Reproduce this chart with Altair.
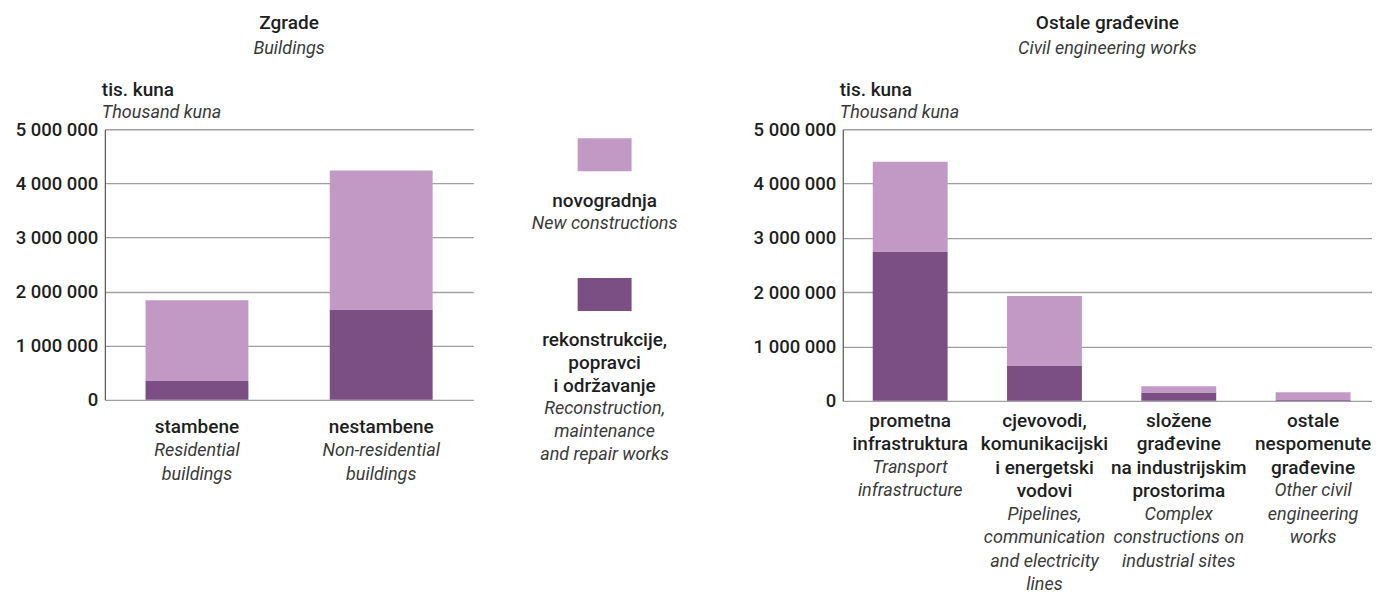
import altair as alt
import pandas as pd

FONT = "Roboto"
TXT = "#1e1e1e"
ITX = "#3a3a3a"
WT = 500

# ---- data ----
series = ["novogradnja", "rekonstrukcije, popravci i održavanje"]
series_hr = [["novogradnja"], ["rekonstrukcije,", "popravci", "i održavanje"]]
series_en = [["New constructions"], ["Reconstruction,", "maintenance", "and repair works"]]
colors = ["#C199C4", "#7B4F84"]

bld_cats = ["stambene", "nestambene"]
bld_new = [1490000, 2570000]
bld_rec = [350000, 1670000]
bld_hr = [["stambene"], ["nestambene"]]
bld_en = [["Residential", "buildings"], ["Non-residential", "buildings"]]

civ_cats = ["prometna infrastruktura", "cjevovodi, komunikacijski i energetski vodovi",
            "složene građevine na industrijskim prostorima", "ostale nespomenute građevine"]
civ_new = [1650000, 1290000, 115000, 145000]
civ_rec = [2750000, 640000, 155000, 15000]
civ_hr = [["prometna", "infrastruktura"],
          ["cjevovodi,", "komunikacijski", "i energetski", "vodovi"],
          ["složene", "građevine", "na industrijskim", "prostorima"],
          ["ostale", "nespomenute", "građevine"]]
civ_en = [["Transport", "infrastructure"],
          ["Pipelines,", "communication", "and electricity", "lines"],
          ["Complex", "constructions on", "industrial sites"],
          ["Other civil", "engineering", "works"]]

y_ticks = [0, 1000000, 2000000, 3000000, 4000000, 5000000]
unit_hr = "tis. kuna"
unit_en = "Thousand kuna"

color_enc = alt.Color("series:N", scale=alt.Scale(domain=series, range=colors), legend=None)


def panel(cats, new, rec, hr, en, title, subtitle, width, height, p_in, p_out, align,
          label_top, line_h):
    rows = []
    for i, c in enumerate(cats):
        rows.append({"cat": c, "series": series[1], "value": rec[i], "rank": 0})
        rows.append({"cat": c, "series": series[0], "value": new[i], "rank": 1})
    df = pd.DataFrame(rows)
    xs = alt.Scale(domain=cats, paddingInner=p_in, paddingOuter=p_out, align=align)
    bars = alt.Chart(df).mark_bar().encode(
        x=alt.X("cat:N", scale=xs, axis=alt.Axis(labels=False, ticks=False, title=None,
                                                  domainColor="#222", domainWidth=1.5)),
        y=alt.Y("value:Q", stack="zero",
                scale=alt.Scale(domain=[0, 5000000], nice=False),
                axis=alt.Axis(values=y_ticks, title=None, ticks=False,
                              labelExpr="replace(format(datum.value, ','), regexp(',', 'g'), ' ')",
                              labelFont=FONT, labelFontSize=18.5, labelColor=TXT,
                              labelFontWeight=WT,
                              labelPadding=7, grid=True, gridColor="#a0a0a0", gridWidth=1.3,
                              domainColor="#555", domainWidth=1.2)),
        color=color_enc,
        order=alt.Order("rank:Q"),
    )
    lab = pd.DataFrame({"cat": cats, "hr": hr, "en": en})
    base = alt.Chart(lab).encode(x=alt.X("cat:N", scale=xs, axis=None), y=alt.value(height + label_top))
    layers = [bars,
              base.mark_text(font=FONT, fontSize=19, fontWeight=WT, color=TXT, align="center",
                             baseline="top", lineHeight=line_h).encode(text="hr:N")]
    for c, h in zip(cats, hr):
        layers.append(
            base.transform_filter(alt.datum.cat == c).mark_text(
                font=FONT, fontSize=18, fontStyle="italic", color=ITX, align="center",
                baseline="top", lineHeight=line_h, dy=line_h * len(h)).encode(text="en:N"))
    u = alt.Chart(pd.DataFrame({"hr": [unit_hr], "en": [unit_en]}))
    layers.append(u.mark_text(font=FONT, fontSize=19, fontWeight=WT, color=TXT, align="left",
                              baseline="middle").encode(x=alt.value(-3), y=alt.value(-39), text="hr:N"))
    layers.append(u.mark_text(font=FONT, fontSize=18, fontStyle="italic", color=ITX, align="left",
                              baseline="middle").encode(x=alt.value(-3), y=alt.value(-16), text="en:N"))
    return alt.layer(*layers).properties(
        width=width, height=height,
        title=alt.TitleParams(text=title, subtitle=subtitle, anchor="middle", frame="group",
                              font=FONT, fontSize=19, fontWeight=WT, color=TXT,
                              subtitleFont=FONT, subtitleFontSize=18, subtitleFontStyle="italic",
                              subtitleColor=ITX, subtitlePadding=7, offset=23),
    )


left = panel(bld_cats, bld_new, bld_rec, bld_hr, bld_en, "Zgrade", "Buildings",
             369, 271, 0.4417, 0.2208, 0.5, 18, 24)
right = panel(civ_cats, civ_new, civ_rec, civ_hr, civ_en, "Ostale građevine", "Civil engineering works",
              530, 272, 0.4424, 0.1915, 0.5825, 11, 23.5)

# ---- legend panel ----
LW = 216
LH = 23
leg_df = pd.DataFrame({"series": series, "hr": series_hr, "en": series_en})
ly = alt.Scale(domain=series, paddingInner=0.7643, paddingOuter=0.35, align=0.0918)
sq = alt.Chart(leg_df).mark_bar().encode(
    y=alt.Y("series:N", scale=ly, axis=None),
    x=alt.value(72.5), x2=alt.value(126.5),
    color=color_enc,
)
leg_layers = [sq]
lbase = alt.Chart(leg_df).encode(y=alt.Y("series:N", scale=ly, axis=None), x=alt.value(99.5))
for s, h, d in zip(series, series_hr, [37, 37]):
    sb = lbase.transform_filter(alt.datum.series == s)
    leg_layers.append(sb.mark_text(font=FONT, fontSize=19, fontWeight=WT, color=TXT, align="center",
                                   baseline="top", lineHeight=LH, dy=d).encode(text="hr:N"))
    leg_layers.append(sb.mark_text(font=FONT, fontSize=18, fontStyle="italic", color=ITX,
                                   align="center", baseline="top", lineHeight=LH,
                                   dy=d + LH * len(h)).encode(text="en:N"))
legend = alt.layer(*leg_layers).properties(width=LW, height=271)

chart = alt.hconcat(left, legend, right, spacing=32).resolve_scale(
    x="independent", y="independent", color="shared"
).configure(
    padding={"left": 7, "top": 6, "right": 0, "bottom": 0},
    view=alt.ViewConfig(stroke=None),
)

chart.save("out.html", embed_options={"renderer": "svg", "actions": False})
